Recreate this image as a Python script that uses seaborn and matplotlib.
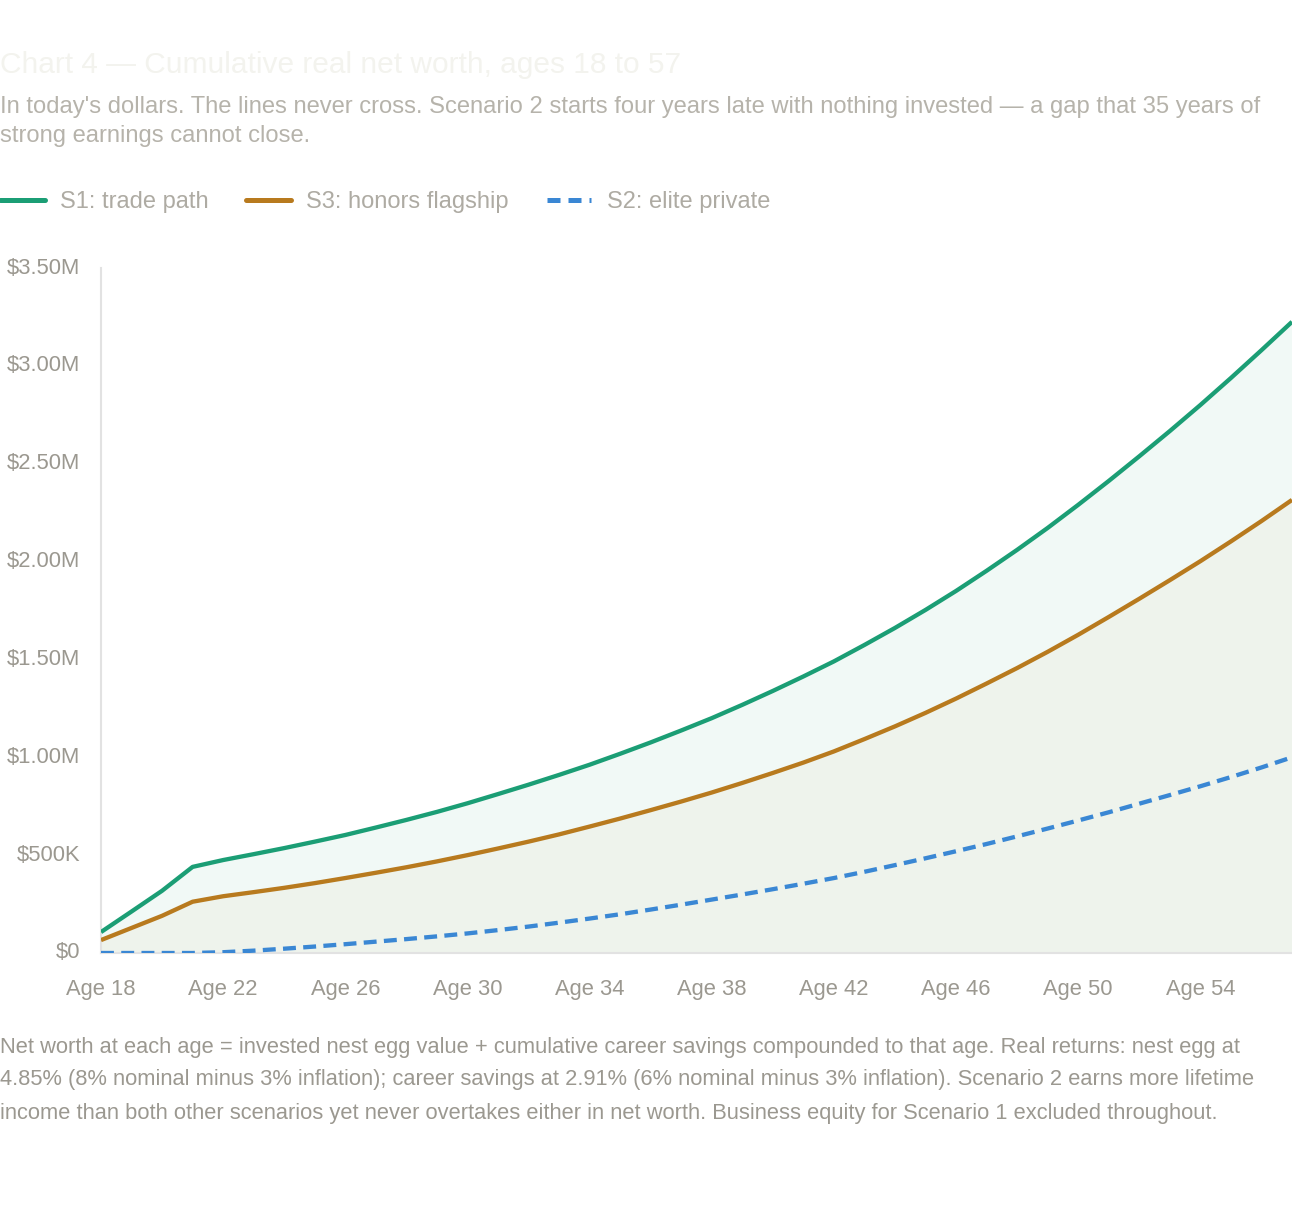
import numpy as np
import pandas as pd
import matplotlib
matplotlib.use("Agg")
import matplotlib.pyplot as plt
import seaborn as sns
from matplotlib.lines import Line2D

# ---------------- data (values in $ millions, real) ----------------
ages = list(range(18, 58))

s1_trade = [0.107, 0.212, 0.318, 0.440, 0.475, 0.505, 0.536, 0.569, 0.603, 0.641,
            0.680, 0.721, 0.765, 0.812, 0.860, 0.910, 0.962, 1.018, 1.076, 1.137,
            1.200, 1.268, 1.339, 1.413, 1.490, 1.574, 1.661, 1.753, 1.850, 1.953,
            2.060, 2.172, 2.290, 2.412, 2.538, 2.667, 2.800, 2.938, 3.080, 3.225]

s3_honors = [0.066, 0.128, 0.190, 0.262, 0.290, 0.311, 0.333, 0.357, 0.383, 0.410,
             0.438, 0.468, 0.500, 0.534, 0.569, 0.606, 0.646, 0.687, 0.730, 0.774,
             0.820, 0.869, 0.920, 0.973, 1.030, 1.093, 1.158, 1.227, 1.300, 1.377,
             1.456, 1.539, 1.626, 1.717, 1.810, 1.905, 2.002, 2.103, 2.207, 2.315]

s2_elite = [0.000, 0.000, 0.000, 0.000, 0.004, 0.012, 0.022, 0.033, 0.045, 0.058,
            0.071, 0.085, 0.100, 0.117, 0.135, 0.155, 0.176, 0.198, 0.222, 0.247,
            0.273, 0.299, 0.326, 0.354, 0.383, 0.415, 0.449, 0.484, 0.520, 0.557,
            0.596, 0.636, 0.677, 0.719, 0.763, 0.807, 0.852, 0.899, 0.948, 1.000]

series_names = ["S1: trade path", "S3: honors flagship", "S2: elite private"]
x_ticks = [18, 22, 26, 30, 34, 38, 42, 46, 50, 54]
y_ticks = [0, 0.5, 1.0, 1.5, 2.0, 2.5, 3.0, 3.5]
y_tick_labels = ["$0", "$500K", "$1.00M", "$1.50M", "$2.00M", "$2.50M", "$3.00M", "$3.50M"]

title = "Chart 4 \u2014 Cumulative real net worth, ages 18 to 57"
subtitle_lines = [
    "In today's dollars. The lines never cross. Scenario 2 starts four years late with nothing invested \u2014 a gap that 35 years of",
    "strong earnings cannot close.",
]
footnote_lines = [
    "Net worth at each age = invested nest egg value + cumulative career savings compounded to that age. Real returns: nest egg at",
    "4.85% (8% nominal minus 3% inflation); career savings at 2.91% (6% nominal minus 3% inflation). Scenario 2 earns more lifetime",
    "income than both other scenarios yet never overtakes either in net worth. Business equity for Scenario 1 excluded throughout.",
]

# ---------------- styling ----------------
GREEN = "#1b9e75"
ORANGE = "#b87a1e"
BLUE = "#3a87d4"
TEXT = "#9b9890"

sns.set_theme(style="white")
plt.rcParams["font.family"] = ["Liberation Sans", "DejaVu Sans"]

df = pd.DataFrame({"age": ages * 3,
                   "value": s1_trade + s3_honors + s2_elite,
                   "series": [series_names[0]] * len(ages) + [series_names[1]] * len(ages)
                             + [series_names[2]] * len(ages)})

W, H = 1292, 1212
fig = plt.figure(figsize=(W / 100, H / 100), dpi=100)
ax = fig.add_axes([101 / W, (H - 953) / H, (1292 - 101) / W, (953 - 268) / H])

# fills
ax.fill_between(ages, s1_trade, 0, color=GREEN, alpha=0.06, linewidth=0, zorder=1)
ax.fill_between(ages, s3_honors, 0, color=ORANGE, alpha=0.045, linewidth=0, zorder=1)

sns.lineplot(data=df, x="age", y="value", hue="series", style="series",
             palette={series_names[0]: GREEN, series_names[1]: ORANGE, series_names[2]: BLUE},
             dashes={series_names[0]: "", series_names[1]: "", series_names[2]: (3, 1.7)},
             linewidth=3.1, legend=False, ax=ax, zorder=3)
for ln in ax.lines:
    ln.set_solid_capstyle("butt")
    ln.set_dash_capstyle("butt")
    ln.set_solid_joinstyle("round")

ax.set_xlim(18, 57)
ax.set_ylim(0, 3.5)
ax.set_xticks(x_ticks)
ax.set_xticklabels([f"Age {a}" for a in x_ticks])
ax.set_yticks(y_ticks)
ax.set_yticklabels(y_tick_labels)
ax.set_xlabel("")
ax.set_ylabel("")
ax.tick_params(axis="both", length=0, labelsize=15.8, colors=TEXT)
ax.tick_params(axis="x", pad=19)
ax.tick_params(axis="y", pad=15)
for lab in ax.get_yticklabels():
    lab.set_verticalalignment("center")
for side in ["top", "right"]:
    ax.spines[side].set_visible(False)
for side in ["left", "bottom"]:
    ax.spines[side].set_color("#e2e2e2")
    ax.spines[side].set_linewidth(1.5)
ax.patch.set_alpha(0)

# titles
fig.text(0, 1 - 65 / H, title, fontsize=21.5, color="#f3f3ee", ha="left", va="center")
for i, line in enumerate(subtitle_lines):
    fig.text(0, 1 - (107 + 29 * i) / H, line, fontsize=17.1, color="#b6b3ab",
             ha="left", va="center")

# legend
handles = [Line2D([], [], color=GREEN, lw=3.6, solid_capstyle="round"),
           Line2D([], [], color=ORANGE, lw=3.6, solid_capstyle="round"),
           Line2D([], [], color=BLUE, lw=3.6, linestyle=(0, (2.6, 1.6)))]
fig.legend(handles, series_names, loc="center left", bbox_to_anchor=(0.0, 1 - 202 / H),
           ncol=3, frameon=False, fontsize=17, labelcolor="#aeaba3",
           handlelength=1.9, handletextpad=0.64, columnspacing=1.6,
           borderpad=0, borderaxespad=0)

# footnote
for i, line in enumerate(footnote_lines):
    fig.text(0, 1 - (1047 + 33 * i) / H, line, fontsize=15.75, color=TEXT, ha="left", va="center")

fig.savefig("out.png", dpi=100)
